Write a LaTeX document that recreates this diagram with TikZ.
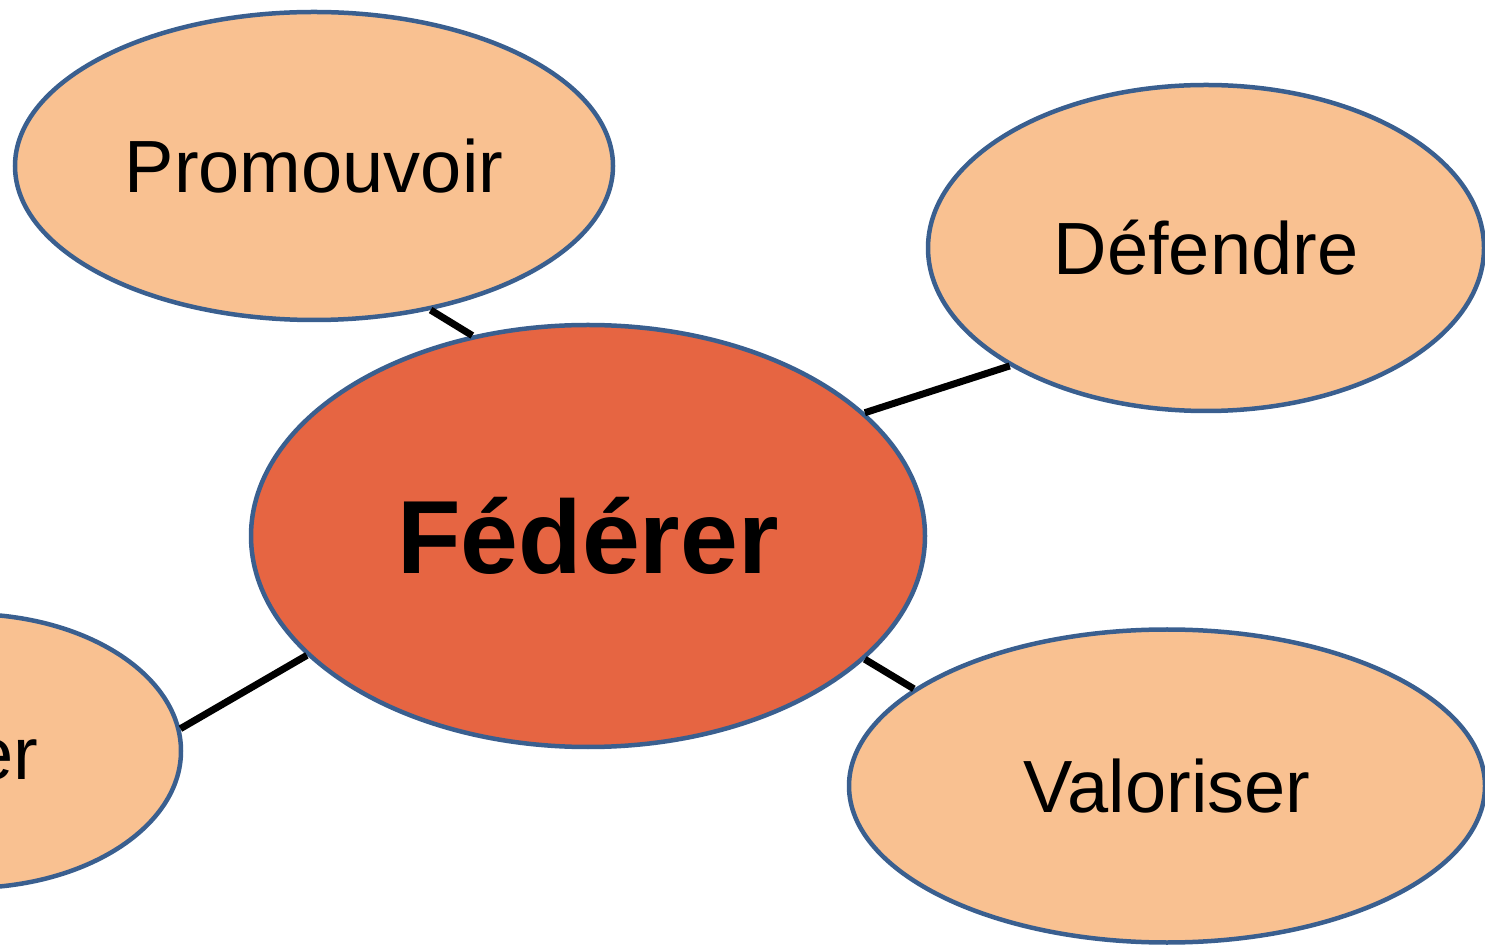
\documentclass[tikz,border=0pt]{standalone}
\usepackage{fontspec}
\setmainfont{Liberation Sans}
\usetikzlibrary{shapes.geometric,shadows}

\definecolor{bubblefill}{RGB}{249,193,145}
\definecolor{hubfill}{RGB}{230,101,66}
\definecolor{rim}{RGB}{58,95,143}

\begin{document}
\begin{tikzpicture}[x=1pt, y=1pt,
    bubble/.style={ellipse, draw=rim, line width=4.5pt, fill=bubblefill,
      inner sep=0pt, font=\fontsize{74}{80}\selectfont},
    hub/.style={bubble, fill=hubfill, font=\fontsize{104}{110}\selectfont\bfseries},
    link/.style={line width=7pt, draw=black,
      drop shadow={opacity=0.25, shadow xshift=2pt, shadow yshift=-2pt}}]
  \useasboundingbox (0,0) rectangle (1485,948);
  \clip (0,0) rectangle (1485,948);
  \node[hub, minimum width=674pt, minimum height=422pt] (fed) at (588,412) {Fédérer};
  \node[bubble, minimum width=598pt, minimum height=308pt] (pro) at (314,782) {Promouvoir};
  \node[bubble, minimum width=556pt, minimum height=326pt] (def) at (1206,700) {Défendre};
  \node[bubble, minimum width=636pt, minimum height=313pt] (val) at (1167,162) {Valoriser};
  \node[bubble, minimum width=426pt, minimum height=274pt] (lft) at (-32,197) {};
  \node[anchor=base east, inner sep=0pt, font=\fontsize{74}{80}\selectfont] (lfttext) at (38,169) {er};
  \path[link] (pro.-51) -- (fed.120);
  \path[link] (def.211) -- (fed.24);
  \path[link] (val.159) -- (fed.-24);
  \path[link] (lft.6) -- (fed.203);
\end{tikzpicture}
\end{document}
